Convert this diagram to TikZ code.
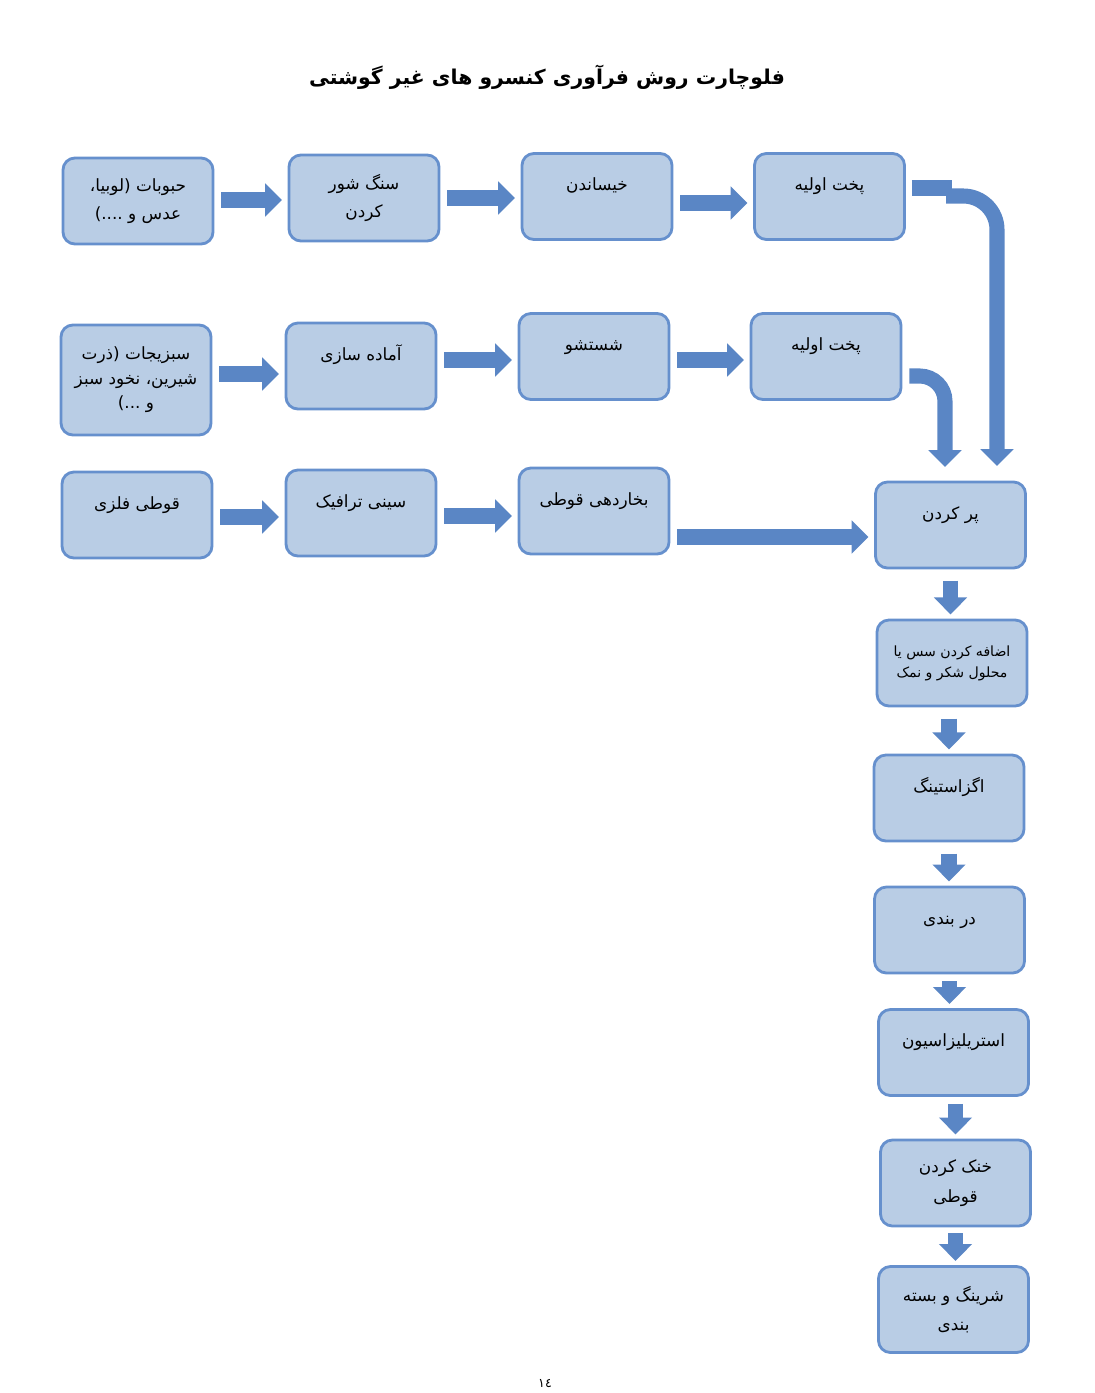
\documentclass[tikz,border=0pt]{standalone}
\usepackage{fontspec}
\newfontfamily\fa[Script=Arabic]{DejaVu Sans}
\TeXXeTstate=1
\usetikzlibrary{arrows.meta,calc}
\definecolor{boxfill}{HTML}{B9CDE5}
\definecolor{boxline}{HTML}{6690CD}
\definecolor{arrowblue}{HTML}{5A86C5}
\newcommand{\rtl}[1]{\beginR #1\endR}

\begin{document}
\begin{tikzpicture}[x=0.025cm, y=-0.025cm,
    box/.style={draw=boxline, fill=boxfill, line width=2pt, rounded corners=8.5pt,
        minimum width=3.75cm, minimum height=2.15cm, align=center, inner sep=2pt,
        font=\fa\fontsize{12}{20}\selectfont},
    oneline/.style={text height=9pt, text depth=17pt},
    flow/.style={draw=arrowblue, line width=10.7pt, shorten <=5pt, shorten >=4pt,
        -{Triangle[width=23pt,length=12pt]}},
    flowbar/.style={draw=arrowblue, line width=12pt}]
    \useasboundingbox (0,0) rectangle (1095,1393);

    \node at (547,77) [font=\fa\bfseries\fontsize{14.5}{17}\selectfont] (title)
        {\rtl{فلوچارت روش فرآوری کنسرو های غیر گوشتی}};

    % first row
    \node at (138,201) [box] (a1) {\rtl{حبوبات (لوبیا،}\\\rtl{عدس و ....)}};
    \node at (364,198) [box] (a2) {\rtl{سنگ شور}\\\rtl{کردن}};
    \node at (597,196.5) [box, oneline] (a3) {\rtl{خیساندن}};
    \node at (829.5,196.5) [box, oneline] (a4) {\rtl{پخت اولیه}};

    % second row
    \node at (136,380) [box, minimum height=2.75cm, font=\fa\fontsize{12}{17.5}\selectfont] (b1)
        {\rtl{سبزیجات (ذرت}\\\rtl{شیرین، نخود سبز}\\\rtl{و ...)}};
    \node at (361,366) [box, oneline] (b2) {\rtl{آماده سازی}};
    \node at (594,356.5) [box, oneline] (b3) {\rtl{شستشو}};
    \node at (826,356.5) [box, oneline] (b4) {\rtl{پخت اولیه}};

    % third row
    \node at (137,515) [box, oneline] (c1) {\rtl{قوطی فلزی}};
    \node at (361,513) [box, oneline] (c2) {\rtl{سینی ترافیک}};
    \node at (594,511) [box, oneline] (c3) {\rtl{بخاردهی قوطی}};

    % right column
    \node at (950.5,525) [box, oneline] (d1) {\rtl{پر کردن}};
    \node at (952,663) [box, font=\fa\fontsize{10}{15}\selectfont] (d2)
        {\rtl{اضافه کردن سس یا}\\\rtl{محلول شکر و نمک}};
    \node at (949,798) [box, oneline] (d3) {\rtl{اگزاستینگ}};
    \node at (949.5,930) [box, oneline] (d4) {\rtl{در بندی}};
    \node at (953.5,1052.5) [box, oneline] (d5) {\rtl{استریلیزاسیون}};
    \node at (955.5,1183) [box, font=\fa\fontsize{12}{21}\selectfont] (d6)
        {\rtl{خنک کردن}\\\rtl{قوطی}};
    \node at (953.5,1309.5) [box, font=\fa\fontsize{12}{21}\selectfont] (d7)
        {\rtl{شرینگ و بسته}\\\rtl{بندی}};

    \node at (545,1383) [font=\fa\fontsize{9}{10}\selectfont] (page) {١٤};

    \draw[flow] (a1.east |- 0,200) -- (a2.west |- 0,200);
    \draw[flow] (a2.east |- 0,198) -- (a3.west |- 0,198);
    \draw[flow] (a3.east |- 0,203) -- (a4.west |- 0,203);

    \draw[flow] (b1.east |- 0,374) -- (b2.west |- 0,374);
    \draw[flow] (b2.east |- 0,360) -- (b3.west |- 0,360);
    \draw[flow] (b3.east |- 0,360) -- (b4.west |- 0,360);

    \draw[flow] (c1.east |- 0,517) -- (c2.west |- 0,517);
    \draw[flow] (c2.east |- 0,516) -- (c3.west |- 0,516);
    \draw[flow] (c3.east |- 0,537) -- (d1.west |- 0,537);

    % bent arrows into the filling step
    \coordinate (in1) at (997,466);
    \coordinate (in2) at (945,467);
    \draw[flowbar] ($(a4.east)+(6,-8.5)$) -- ++(40,0);
    \draw[flow, shorten >=0pt, shorten <=0pt, rounded corners=24pt] (946,196) -| (in1);
    \draw[flow, shorten >=0pt, rounded corners=18pt] (b4.east |- 0,376) -| (in2);

    \draw[flow, shorten <=8pt, shorten >=3pt] (d1.south) -- (d1.south |- d2.north);
    \draw[flow, shorten <=8pt, shorten >=3pt] (d3.north |- d2.south) -- (d3.north);
    \draw[flow, shorten <=8pt, shorten >=3pt] (d3.south) -- (d3.south |- d4.north);
    \draw[flow, shorten <=5pt, shorten >=3pt] (d4.south) -- (d4.south |- d5.north);
    \draw[flow, shorten <=5pt, shorten >=3pt] (d6.north |- d5.south) -- (d6.north);
    \draw[flow, shorten <=4pt, shorten >=3pt] (d6.south) -- (d6.south |- d7.north);
\end{tikzpicture}
\end{document}
